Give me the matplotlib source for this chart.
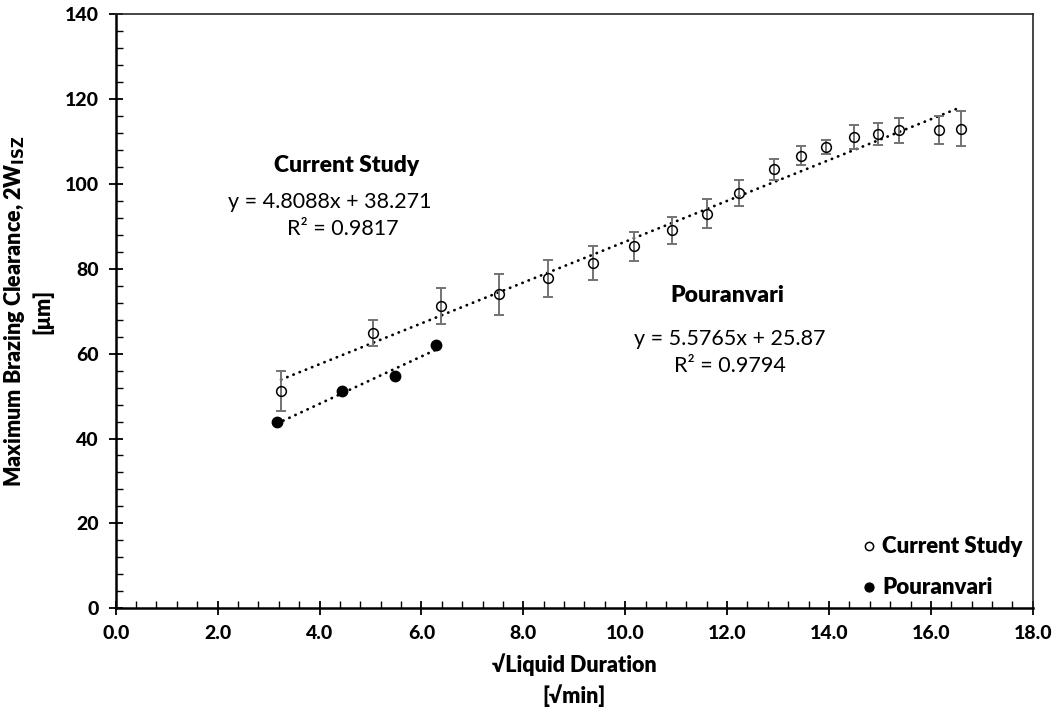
import matplotlib
matplotlib.use("Agg")
import matplotlib.pyplot as plt
import numpy as np
from matplotlib.ticker import MultipleLocator, FormatStrFormatter

plt.rcParams['font.family'] = ['Lato', 'DejaVu Sans']
plt.rcParams['font.weight'] = 'bold'
plt.rcParams['mathtext.default'] = 'bf'

# Current study data
cs_x = [3.245, 5.05, 6.39, 7.52, 8.49, 9.36, 10.17, 10.91, 11.60, 12.24,
        12.92, 13.45, 13.94, 14.49, 14.96, 15.38, 16.16, 16.59]
cs_y = [51.2, 64.8, 71.2, 74.0, 77.7, 81.3, 85.3, 89.0, 93.0, 97.8,
        103.4, 106.6, 108.6, 111.0, 111.8, 112.6, 112.6, 113.0]
cs_err = [4.8, 3.0, 4.2, 4.8, 4.45, 4.0, 3.45, 3.2, 3.45, 3.0,
          2.4, 2.2, 1.65, 2.85, 2.6, 3.0, 3.3, 4.05]

# Pouranvari data
po_x = [3.17, 4.45, 5.48, 6.29]
po_y = [43.9, 51.2, 54.7, 62.0]

# Trendline coefficients (as printed on the chart)
cs_slope, cs_icpt, cs_r2 = 4.8088, 38.271, 0.9817
po_slope, po_icpt, po_r2 = 5.5765, 25.87, 0.9794

fig = plt.figure(figsize=(10.57, 7.13), dpi=100)
ax = fig.add_axes([0.1095, 0.1468, 0.8676, 0.8336])

dotted = (0, (0.1, 2.3))
cx = np.array([min(cs_x), max(cs_x)])
ax.plot(cx, cs_slope * cx + cs_icpt, color='black', lw=2.0,
        linestyle=dotted, dash_capstyle='round', zorder=2)
px = np.array([min(po_x), max(po_x)])
ax.plot(px, po_slope * px + po_icpt, color='black', lw=2.0,
        linestyle=dotted, dash_capstyle='round', zorder=2)

ax.errorbar(cs_x, cs_y, yerr=cs_err, fmt='none', ecolor='#737373',
            elinewidth=1.4, capsize=3.8, capthick=1.4, zorder=3)

ax.plot(cs_x, cs_y, linestyle='none', marker='o', markersize=7.0,
        markerfacecolor='none', markeredgecolor='black', markeredgewidth=1.1,
        label='Current Study', zorder=4)
ax.plot(po_x, po_y, linestyle='none', marker='o', markersize=7.5,
        markerfacecolor='black', markeredgecolor='black',
        label='Pouranvari', zorder=4)

ax.set_xlim(0, 18)
ax.set_ylim(0, 140)
ax.xaxis.set_major_locator(MultipleLocator(2))
ax.xaxis.set_minor_locator(MultipleLocator(0.4))
ax.yaxis.set_major_locator(MultipleLocator(20))
ax.yaxis.set_minor_locator(MultipleLocator(4))
ax.xaxis.set_major_formatter(FormatStrFormatter('%.1f'))

ax.tick_params(which='major', direction='inout', length=10, width=1.3,
               labelsize=14, pad=7)
ax.tick_params(which='minor', direction='in', length=5, width=1.0)
for lbl in ax.get_xticklabels() + ax.get_yticklabels():
    lbl.set_fontweight('black')

for s in ['left', 'bottom']:
    ax.spines[s].set_linewidth(1.8)
    ax.spines[s].set_color('black')
for s in ['top', 'right']:
    ax.spines[s].set_linewidth(1.2)
    ax.spines[s].set_color('#262626')

ax.set_xlabel('\u221aLiquid Duration\n[\u221amin]', fontsize=15.5,
              fontweight='heavy', labelpad=8, linespacing=1.45)
ax.set_ylabel('Maximum Brazing Clearance, 2W$_{\\mathbf{ISZ}}$\n[\u03bcm]',
              fontsize=15.5, fontweight='heavy', labelpad=8, linespacing=1.3)

ax.text(4.54, 104.4, 'Current Study', fontsize=16.5, fontweight='heavy',
        ha='center', va='center')
ax.text(4.21, 95.7, f'y = {cs_slope}x + {cs_icpt}', fontsize=15.5,
        fontweight='normal', ha='center', va='center')
ax.text(4.45, 89.3, f'R\u00b2 = {cs_r2}', fontsize=15.5,
        fontweight='normal', ha='center', va='center')

ax.text(12.0, 73.6, 'Pouranvari', fontsize=16.5, fontweight='heavy',
        ha='center', va='center')
ax.text(12.05, 63.4, f'y = {po_slope}x + {po_icpt}', fontsize=15.5,
        fontweight='normal', ha='center', va='center')
ax.text(12.05, 57.1, f'R\u00b2 = {po_r2}', fontsize=15.5,
        fontweight='normal', ha='center', va='center')

leg = ax.legend(loc='lower right', frameon=False, fontsize=16,
                handletextpad=0.05, handlelength=1.1, labelspacing=0.9,
                borderaxespad=0.05, markerscale=0.85)
for t in leg.get_texts():
    t.set_fontweight('heavy')

fig.savefig('out.png', dpi=100)
